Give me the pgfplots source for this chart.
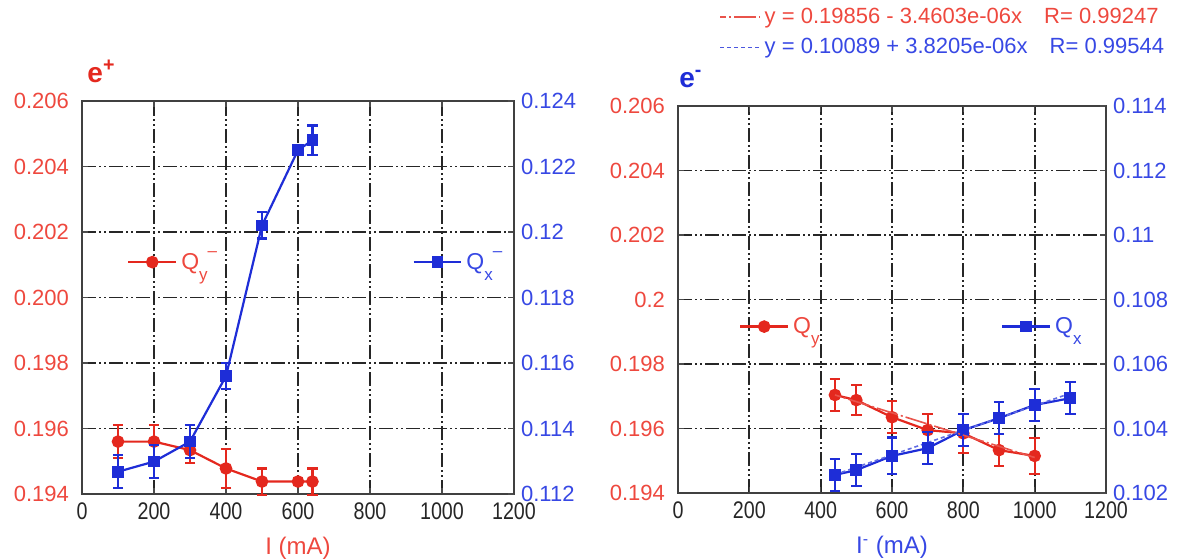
\documentclass[border=0pt]{standalone}
\usepackage{fontspec}
\setmainfont{Liberation Sans}
\usepackage{pgfplots}
\pgfplotsset{compat=1.18}
\definecolor{myred}{RGB}{228,40,30}
\definecolor{myblue}{RGB}{30,45,215}
\definecolor{tred}{RGB}{238,72,62}
\definecolor{tblue}{RGB}{55,72,228}
\pgfplotsset{
  base/.style={scale only axis, xmin=0, xmax=1200,
    xtick={0,200,400,600,800,1000,1200},
    xticklabels={0,200,400,600,800,1000,1200},
    tick align=inside, major tick length=3pt,
    tick style={black!70, line width=0.6pt},
    axis line style={black!75, line width=1.1pt},
    ticklabel style={font=\fontsize{11}{13}\selectfont},
    xticklabel style={font=\fontsize{12}{14}\selectfont, text=black!85, xscale=0.82, yshift=-1pt},
    clip=false},
  gridst/.style={grid=major, major grid style={black!85, line width=0.9pt,
    dash pattern=on 7pt off 1.5pt on 1pt off 1.5pt on 1pt off 1.5pt}},
  redpl/.style={myred, line width=1.1pt, mark=*, mark size=2.6pt,
    mark options={fill=myred, draw=myred, solid},
    error bars/.cd, y dir=both, y explicit,
    error bar style={myred, line width=1.1pt},
    error mark options={myred, rotate=90, mark size=2.6pt, line width=1.1pt}},
  bluepl/.style={myblue, line width=1.1pt, mark=square*, mark size=2.4pt,
    mark options={fill=myblue, draw=myblue, solid},
    error bars/.cd, y dir=both, y explicit,
    error bar style={myblue, line width=1.1pt},
    error mark options={myblue, rotate=90, mark size=2.6pt, line width=1.1pt}},
  qleg/.style={legend style={draw=none, fill=none, font=\fontsize{11.5}{13}\selectfont, anchor=west, at={#1}},
    legend image code/.code={\draw[##1, mark repeat=2, mark phase=2] plot coordinates {(0cm,0cm) (0.42cm,0cm) (0.84cm,0cm)};}},
  lefttl/.style={yticklabel style={xshift=-3pt}},
}
\newcommand{\Qsub}[2]{Q\raisebox{-0.9ex}{\fontsize{8.5}{9}\selectfont #1}\raisebox{1.1ex}{\fontsize{8.5}{9}\selectfont #2}}
\begin{document}
\begin{tikzpicture}
\path[use as bounding box] (0,0) rectangle (591pt,-280pt);
% ================= LEFT PANEL =================
\begin{axis}[base, gridst, lefttl, width=216pt, height=196.5pt, at={(41pt,-247pt)}, anchor=south west,
  ymin=0.194, ymax=0.206,
  ytick={0.194,0.196,0.198,0.2,0.202,0.204,0.206},
  yticklabels={0.194,0.196,0.198,0.200,0.202,0.204,0.206},
  yticklabel style={text=tred},
  xlabel={I (mA)}, xlabel style={at={(axis description cs:0.5,-0.137)}, anchor=center, text=tred, font=\fontsize{12}{14}\selectfont},
  qleg={(axis description cs:0.09,0.59)}, legend style={text=tred}]
\addplot+[redpl] coordinates {
 (100,0.1956) +- (0,0.0005)
 (200,0.1956) +- (0,0.0005)
 (300,0.19534) +- (0,0.0004)
 (400,0.19478) +- (0,0.0006)
 (500,0.19438) +- (0,0.0004)
 (600,0.19438) +- (0,0.0001)
 (640,0.19438) +- (0,0.0004)
};
\addlegendentry{\Qsub{y}{--}}
\node[text=myred, font=\fontsize{14}{16}\selectfont\bfseries] at (axis description cs:0.045,1.075) {e\textsuperscript{+}};
\end{axis}
\begin{axis}[base, width=216pt, height=196.5pt, at={(41pt,-247pt)}, anchor=south west,
  axis y line*=right, axis x line=none,
  ymin=0.112, ymax=0.124,
  ytick={0.112,0.114,0.116,0.118,0.12,0.122,0.124},
  yticklabels={0.112,0.114,0.116,0.118,0.12,0.122,0.124},
  yticklabel style={text=tblue},
  qleg={(axis description cs:0.75,0.59)}, legend style={text=tblue}]
\addplot+[bluepl] coordinates {
 (100,0.11268) +- (0,0.0005)
 (200,0.11299) +- (0,0.0005)
 (300,0.1136) +- (0,0.0005)
 (400,0.1156) +- (0,0.0004)
 (500,0.1202) +- (0,0.0004)
 (600,0.1225) +- (0,0.0001)
 (640,0.1228) +- (0,0.00045)
};
\addlegendentry{\Qsub{x}{--}}
\end{axis}
% ================= RIGHT PANEL =================
\begin{axis}[base, gridst, lefttl, width=214pt, height=193.5pt, at={(339pt,-246.5pt)}, anchor=south west,
  ymin=0.194, ymax=0.206,
  ytick={0.194,0.196,0.198,0.2,0.202,0.204,0.206},
  yticklabels={0.194,0.196,0.198,0.2,0.202,0.204,0.206},
  yticklabel style={text=tred},
  xlabel={I\textsuperscript{-} (mA)}, xlabel style={at={(axis description cs:0.5,-0.14)}, anchor=center, text=tblue, font=\fontsize{12}{14}\selectfont},
  qleg={(axis description cs:0.128,0.43)}, legend style={text=tred}]
\addplot+[redpl] coordinates {
 (440,0.19704) +- (0,0.0005)
 (500,0.19688) +- (0,0.00047)
 (600,0.19635) +- (0,0.0005)
 (700,0.19595) +- (0,0.0005)
 (800,0.19585) +- (0,0.0006)
 (900,0.19533) +- (0,0.0005)
 (1000,0.19515) +- (0,0.00055)
};
\addlegendentry{\Qsub{y}{}}
\node[text=myblue, font=\fontsize{14}{16}\selectfont\bfseries] at (axis description cs:0.03,1.07) {e\textsuperscript{-}};
\end{axis}
\begin{axis}[base, width=214pt, height=193.5pt, at={(339pt,-246.5pt)}, anchor=south west,
  axis y line*=right, axis x line=none,
  ymin=0.102, ymax=0.114,
  ytick={0.102,0.104,0.106,0.108,0.11,0.112,0.114},
  yticklabels={0.102,0.104,0.106,0.108,0.11,0.112,0.114},
  yticklabel style={text=tblue},
  qleg={(axis description cs:0.74,0.43)}, legend style={text=tblue}]
\addplot+[bluepl] coordinates {
 (440,0.10256) +- (0,0.0005)
 (500,0.10271) +- (0,0.0005)
 (600,0.10315) +- (0,0.00057)
 (700,0.10339) +- (0,0.0005)
 (800,0.10395) +- (0,0.0005)
 (900,0.10432) +- (0,0.0005)
 (1000,0.10473) +- (0,0.0005)
 (1100,0.10494) +- (0,0.0005)
};
\addlegendentry{\Qsub{x}{}}
\addplot[myblue!70, line width=0.8pt, dash pattern=on 2pt off 1.5pt, forget plot] coordinates {(440,0.10257) (1100,0.10509)};
\end{axis}
\begin{axis}[base, width=214pt, height=193.5pt, at={(339pt,-246.5pt)}, anchor=south west,
  hide axis, ymin=0.194, ymax=0.206,
  legend style={draw=none, fill=none, font=\fontsize{11}{13}\selectfont, anchor=north east,
    at={(axis description cs:1.16,1.275)}, row sep=2pt, cells={anchor=west}},
  legend image code/.code={\draw[#1] (0cm,0cm) -- (0.7cm,0cm);}]
\addplot[myred!80, line width=0.8pt, dash pattern=on 3pt off 1.5pt on 1pt off 1.5pt on 8pt off 0pt] coordinates {(440,0.19704) (1000,0.19510)};
\addlegendentry{\textcolor{tred}{y = 0.19856 - 3.4603e-06x\quad R= 0.99247}}
\addlegendimage{myblue!80, line width=0.8pt, dash pattern=on 2pt off 1.5pt}
\addlegendentry{\textcolor{tblue}{y = 0.10089 + 3.8205e-06x\quad R= 0.99544}}
\end{axis}
\end{tikzpicture}
\end{document}
